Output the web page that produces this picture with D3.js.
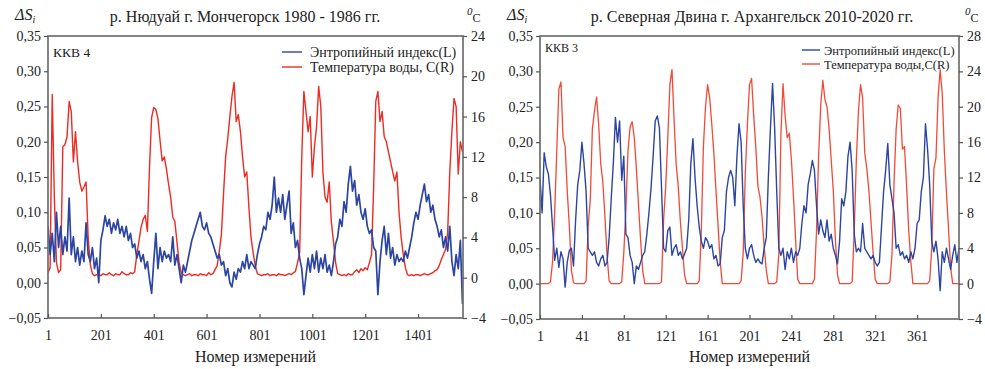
<!DOCTYPE html>
<html><head><meta charset="utf-8">
<script src="https://cdn.jsdelivr.net/npm/d3@7"></script>
<style>
body{margin:0;background:#fff}
svg{display:block}
text{font-family:"Liberation Serif","Times New Roman","DejaVu Serif",serif;fill:#222}
</style>
</head><body><svg id="c" width="985" height="369"></svg>
<script>
// ---------- data ----------
const leftTitle = "р. Нюдуай г. Мончегорск 1980 - 1986 гг.";
const rightTitle = "р. Северная Двина г. Архангельск 2010-2020 гг.";
const leftStation = "ККВ 4";
const rightStation = "ККВ 3";
const leftLegend = ["Энтропийный индекс(L)", "Температура воды, C(R)"];
const rightLegend = ["Энтропийный индекс(L)", "Температура воды,C(R)"];
const xTitle = "Номер измерений";
const leftXTicks = [1, 201, 401, 601, 801, 1001, 1201, 1401];
const rightXTicks = [1, 41, 81, 121, 161, 201, 241, 281, 321, 361];
const entropyTicks = [-0.05, 0, 0.05, 0.10, 0.15, 0.20, 0.25, 0.30, 0.35];
const leftTempTicks = [-4, 0, 4, 8, 12, 16, 20, 24];
const rightTempTicks = [-4, 0, 4, 8, 12, 16, 20, 24, 28];
const leftStep = 8;   // measurement-number step between stored points
const rightStep = 2;

const leftEntropy = [
 0.08,0.04,0.07,0.03,0.10,0.05,0.08,0.04,0.065,0.045,
 0.12,0.04,0.065,0.03,0.05,0.025,0.045,0.03,0.085,0.04,
 0.03,0.05,0.02,0.035,0.00,0.06,0.075,0.095,0.08,0.09,
 0.07,0.085,0.075,0.09,0.07,0.08,0.065,0.08,0.06,0.07,
 0.05,0.055,0.035,0.045,0.03,0.04,0.02,0.03,0.005,-0.015,
 0.03,0.07,0.02,0.05,0.03,0.045,0.035,0.04,0.03,0.065,
 0.025,0.04,0.02,0.0,0.025,0.015,0.03,0.045,0.06,0.07,
 0.08,0.09,0.10,0.08,0.075,0.085,0.07,0.065,0.055,0.045,
 0.035,0.04,0.025,0.03,0.01,0.02,0.0,-0.006,0.015,0.005,
 0.02,0.015,0.03,0.02,0.04,0.02,0.03,0.025,0.02,0.04,
 0.055,0.065,0.08,0.075,0.10,0.09,0.11,0.15,0.10,0.12,
 0.10,0.125,0.09,0.11,0.13,0.07,0.085,0.05,0.06,0.035,
 0.02,-0.017,0.01,0.035,0.015,0.04,0.02,0.045,0.015,0.035,
 0.02,0.04,0.015,0.025,0.01,0.03,0.055,0.065,0.09,0.08,
 0.115,0.10,0.14,0.165,0.13,0.145,0.11,0.125,0.10,0.09,
 0.105,0.08,0.07,0.075,0.05,0.045,-0.017,0.03,0.06,0.08,
 0.04,0.07,0.035,0.05,0.025,0.04,0.03,0.035,0.03,0.045,
 0.035,0.05,0.065,0.085,0.10,0.09,0.11,0.125,0.14,0.115,
 0.125,0.10,0.11,0.09,0.08,0.065,0.075,0.05,0.065,0.045,
 0.08,0.03,0.01,0.04,0.02,0.06,-0.03
];
const leftTemp = [
 0.5,1.0,18.2,8.0,1.5,0.5,
 0.8,13.0,13.2,14.0,17.5,16.5,
 11.5,14.5,11.5,9.5,8.6,9.0,
 9.5,4.0,1.3,0.4,
 0.2,0.3,0.3,0.2,0.4,0.3,0.3,0.5,0.3,0.2,0.4,0.3,0.3,0.6,0.4,0.3,0.3,0.5,0.4,0.6,
 2.3,3.6,5.0,5.8,6.2,4.6,
 11.0,15.9,16.9,16.7,15.8,13.6,
 11.6,12.0,10.8,9.3,8.0,6.0,
 5.6,3.5,1.5,0.5,
 0.3,0.2,0.3,0.4,0.2,0.3,0.3,0.2,0.4,0.3,0.3,0.2,0.5,0.3,0.4,
 0.8,1.2,2.6,4.3,8.3,12.0,
 13.8,16.0,18.0,19.4,15.5,16.2,
 14.5,12.0,10.0,10.5,7.0,4.0,
 2.5,1.2,0.4,
 0.3,0.2,0.3,0.3,0.4,0.2,0.3,0.3,0.2,0.4,0.3,0.3,0.2,0.3,0.4,0.3,0.5,0.6,
 1.5,2.5,12.0,18.5,16.5,14.5,
 16.0,10.0,13.0,15.0,19.0,17.0,
 10.5,8.0,7.5,9.5,5.5,3.6,1.5,0.4,
 0.3,0.2,0.3,0.2,0.4,0.3,0.3,0.6,0.8,0.5,0.9,0.7,1.0,0.8,
 1.5,2.3,9.0,17.5,18.5,15.5,
 16.5,14.0,13.5,12.5,11.5,10.5,
 9.6,10.5,6.5,4.0,2.3,1.0,
 0.3,0.2,0.3,0.2,0.3,0.3,0.2,0.3,0.4,0.3,0.3,0.4,0.5,0.7,
 0.8,1.2,1.8,2.3,2.8,4.5,
 10.5,14.5,17.8,17.0,10.3,13.5,12.5
];
const rightEntropy = [
 0.15,0.10,0.185,0.165,0.155,0.125,0.08,0.033,0.05,0.023,
 0.045,0.035,-0.005,0.03,0.047,0.05,0.025,0.09,0.14,0.16,
 0.20,0.17,0.13,0.05,0.045,0.04,0.045,0.03,0.025,0.035,
 0.04,0.025,0.03,0.065,0.12,0.17,0.235,0.20,0.23,0.146,
 0.18,0.07,0.065,0.04,0.03,0.0,0.025,0.02,0.03,0.04,
 0.045,0.07,0.10,0.135,0.18,0.23,0.237,0.22,0.136,0.05,
 0.045,0.075,0.08,0.04,0.05,0.055,0.04,0.045,0.035,0.042,
 0.05,0.09,0.17,0.205,0.15,0.11,0.08,0.06,0.05,0.065,
 0.06,0.05,0.055,0.035,0.04,0.025,0.028,0.065,0.075,0.13,
 0.15,0.16,0.15,0.11,0.18,0.226,0.20,0.11,0.05,0.035,
 0.05,0.055,0.04,0.03,0.035,0.03,0.028,0.05,0.065,0.15,
 0.22,0.283,0.22,0.13,0.05,0.04,0.05,0.02,0.045,0.035,
 0.05,0.03,0.045,0.04,0.05,0.085,0.11,0.10,0.14,0.155,
 0.174,0.16,0.11,0.07,0.09,0.075,0.065,0.09,0.06,0.07,
 0.05,0.04,0.028,0.06,0.12,0.11,0.13,0.18,0.20,0.16,
 0.07,0.045,0.05,0.045,0.085,0.05,0.045,0.04,0.035,0.04,
 0.03,0.025,0.03,0.08,0.13,0.16,0.198,0.14,0.12,0.10,
 0.05,0.055,0.04,0.045,0.035,0.04,0.03,0.045,0.035,0.05,
 0.085,0.09,0.13,0.15,0.226,0.19,0.14,0.06,0.045,0.06,
 0.035,-0.01,0.045,0.03,0.05,0.035,0.02,0.04,0.055,0.03,
 0.05
];
const rightTemp = [
 0,0,0,0,0,0.2,2.5,8,15,22.0,
 22.8,16.5,15.5,10.5,6.5,1.5,0.1,0,0,0,
 0,0,0.3,6.5,9.5,17.5,19.5,21.1,18,13.5,
 11.5,7.5,3.2,0.3,0,0,0,0,0,0.2,
 3.5,8.5,15.0,17.7,18.3,16.5,13,9,5,1.5,
 0,0,0,0,0,0,0,0,0.2,7.2,
 11,16.5,22.5,24.2,18.5,13.5,11,7,4,1,
 0,0,0,0,0,0,0.3,6,15.5,20,
 22.5,21,18,14.7,10.5,6.5,2.5,0,0,0,
 0,0,0,0,0,0,0.3,3.5,12.5,18,
 22.5,23.2,19,15.5,11,9.8,7.5,4.2,1.5,0,
 0,0,0,0.2,3.4,17,22.6,19,16.5,17.0,
 14,9.8,5,0.5,0,0,0,0,0,0,
 0,0.5,6,14.5,20.2,23,20.8,20,17.5,14,
 10.5,5,1.0,0,0,0,0,0,0,0.2,
 6,14,19.5,22.5,21.0,14.8,13,10.5,7,3.5,
 0.5,0,0,0,0,0,0,0.2,3.3,11.5,
 17.5,20.2,19.8,15.2,15.5,11,6,2.5,0,0,
 0,0,0,0,0,0,0.3,4,13,14.2,
 21,24.2,21.5,15,10.3,6.2,1.8,0,0,0,
 0
];

// ---------- drawing ----------
const svg = d3.select("#c");
const BLUE = "#2c45a3", RED_L = "#ee2a22", RED_R = "#f24a36";
const fmt = v => (Math.abs(v) < 1e-9 ? "0,00" : d3.format(".2f")(v).replace(".", ","));

function panel(o) {
  const g = svg.append("g");
  const x = d3.scaleLinear().domain(o.xDomain).range([o.x0, o.x1]);
  const yL = d3.scaleLinear().domain([-0.05, 0.35]).range([o.y1, o.y0]);
  const yR = d3.scaleLinear().domain(o.tempDomain).range([o.y1, o.y0]);

  const clipId = "clip" + o.id;
  g.append("clipPath").attr("id", clipId).append("rect")
    .attr("x", o.x0).attr("y", o.y0).attr("width", o.x1 - o.x0).attr("height", o.y1 - o.y0);
  const n = i => 1 + i * o.step;
  const lineT = d3.line().x((d, i) => x(n(i))).y(d => yR(d));
  const lineE = d3.line().x((d, i) => x(n(i))).y(d => yL(d));
  const plot = g.append("g").attr("clip-path", `url(#${clipId})`);
  plot.append("path").datum(o.temp).attr("d", lineT)
    .attr("fill", "none").attr("stroke", o.red).attr("stroke-width", o.redW).attr("stroke-linejoin", "round");
  plot.append("path").datum(o.entropy).attr("d", lineE)
    .attr("fill", "none").attr("stroke", BLUE).attr("stroke-width", o.blueW).attr("stroke-linejoin", "round");

  g.append("rect").attr("x", o.x0).attr("y", o.y0).attr("width", o.x1 - o.x0).attr("height", o.y1 - o.y0)
    .attr("fill", "none").attr("stroke", "#6f6f6f").attr("stroke-width", 1.7);

  const axL = d3.axisLeft(yL).tickValues(entropyTicks).tickFormat(fmt).tickSize(4).tickPadding(3);
  const axR = d3.axisRight(yR).tickValues(o.tempTicks).tickFormat(d3.format("d")).tickSize(4).tickPadding(4);
  const axB = d3.axisBottom(x).tickValues(o.xTicks).tickFormat(d3.format("d")).tickSize(-4).tickPadding(12);
  const gl = g.append("g").attr("transform", `translate(${o.x0},0)`).call(axL);
  const gr = g.append("g").attr("transform", `translate(${o.x1},0)`).call(axR);
  const gb = g.append("g").attr("transform", `translate(0,${o.y1})`).call(axB);
  [gl, gr, gb].forEach(a => {
    a.select(".domain").remove();
    a.selectAll("line").attr("stroke", "#555").attr("stroke-width", 1.2);
    a.selectAll("text").attr("font-size", o.tickFont).attr("font-family", null).attr("fill", "#222");
  });

  g.append("text").attr("x", o.titleX).attr("y", 22).attr("text-anchor", "middle")
    .attr("font-size", o.titleFont).text(o.title);
  const ds = g.append("text").attr("x", o.dsX).attr("y", 20).attr("font-size", 16).attr("font-style", "italic");
  ds.append("tspan").text("ΔS");
  ds.append("tspan").attr("font-size", 10).attr("dy", 3).text("i");
  const dc = g.append("text").attr("x", o.dcX).attr("y", 22).attr("font-size", 14);
  dc.append("tspan").attr("font-size", 11).attr("font-style", "italic").attr("dy", -7).text("0");
  dc.append("tspan").attr("font-size", 12).attr("dy", 7).text("C");

  g.append("text").attr("x", o.x0 + 5).attr("y", o.stationY).attr("font-size", o.stationFont).text(o.station);

  const cols = [BLUE, o.red];
  o.legend.forEach((t, i) => {
    const yy = o.legY + i * o.legGap;
    g.append("line").attr("x1", o.legX).attr("x2", o.legX + o.legLen).attr("y1", yy).attr("y2", yy)
      .attr("stroke", cols[i]).attr("stroke-width", 1.4);
    g.append("text").attr("x", o.legX + o.legLen + o.legPad).attr("y", yy + 4.5)
      .attr("font-size", o.legFont).text(t);
  });

  g.append("text").attr("x", (o.x0 + o.x1) / 2).attr("y", 362).attr("text-anchor", "middle")
    .attr("font-size", 16).text(xTitle);
}

panel({
  id: "L", x0: 48, x1: 463, y0: 36, y1: 318,
  xDomain: [1, 1571], tempDomain: [-4, 24], step: leftStep,
  entropy: leftEntropy, temp: leftTemp, red: RED_L, blueW: 1.7, redW: 1.4,
  xTicks: leftXTicks, tempTicks: leftTempTicks, tickFont: 14,
  title: leftTitle, titleX: 245, titleFont: 16, dsX: 15, dcX: 467,
  station: leftStation, stationY: 57, stationFont: 13.5,
  legend: leftLegend, legX: 282, legLen: 20, legPad: 8, legY: 52, legGap: 15, legFont: 14
});
panel({
  id: "R", x0: 540, x1: 959, y0: 36, y1: 319,
  xDomain: [1, 401], tempDomain: [-4, 28], step: rightStep,
  entropy: rightEntropy, temp: rightTemp, red: RED_R, blueW: 1.4, redW: 1.3,
  xTicks: rightXTicks, tempTicks: rightTempTicks, tickFont: 14,
  title: rightTitle, titleX: 752, titleFont: 16, dsX: 507, dcX: 965,
  station: rightStation, stationY: 52, stationFont: 12,
  legend: rightLegend, legX: 802, legLen: 18, legPad: 4, legY: 50, legGap: 14, legFont: 12.5
});
</script>
</body></html>
